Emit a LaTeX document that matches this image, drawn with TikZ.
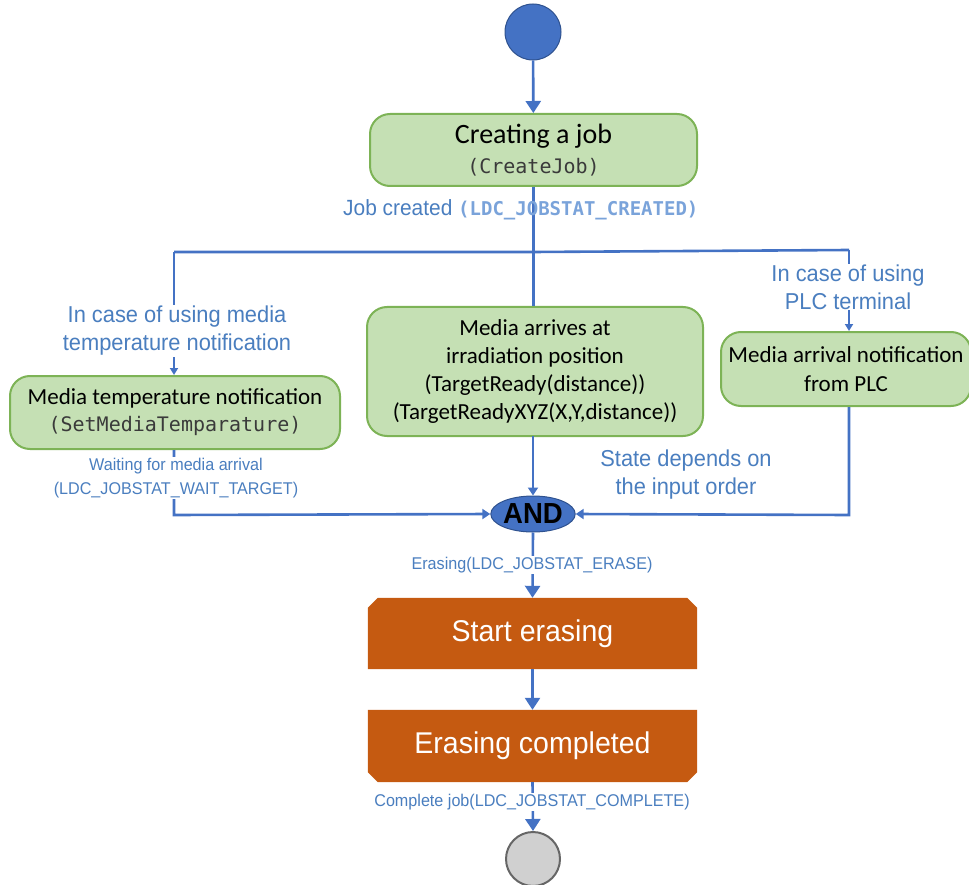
\documentclass[tikz,border=0pt]{standalone}
\usepackage{fontspec}
\setmainfont{Carlito}
\newfontfamily\labfont[FakeStretch=0.95]{Liberation Sans}
\newfontfamily\codefont{DejaVu Sans Mono}
\usetikzlibrary{arrows.meta,shapes.geometric}

\definecolor{flow}{HTML}{4472C4}
\definecolor{flowdark}{HTML}{2F528F}
\definecolor{labblue}{HTML}{4A7EBF}
\definecolor{codeblue}{HTML}{7AA3DA}
\definecolor{boxgreen}{HTML}{C5E0B4}
\definecolor{edgegreen}{HTML}{7DB356}
\definecolor{erase}{HTML}{C55A11}
\definecolor{codegrey}{HTML}{3A3A3A}
\definecolor{endgrey}{HTML}{D0D0D0}

\tikzset{
  flowline/.style={draw=flow, line width=2.6pt},
  bigarrow/.style={flowline, -{Triangle[width=15pt,length=12pt]}},
  midarrow/.style={flowline, -{Triangle[width=10pt,length=8pt]}},
  smallarrow/.style={flowline, -{Triangle[width=8pt,length=7pt]}},
  actbox/.style={rounded corners=20pt, fill=boxgreen, draw=edgegreen,
    line width=2pt, align=center, inner sep=0pt},
  erasebox/.style={inner sep=0pt, align=center, text=white,
    font=\labfont\fontsize{30}{34}\selectfont},
  biglabel/.style={text=labblue, align=center, fill=white, inner sep=1pt,
    font=\labfont\fontsize{23}{28}\selectfont},
  smalllabel/.style={text=labblue, align=center, fill=white, inner sep=1pt,
    font=\labfont\fontsize{17}{24}\selectfont},
}

\begin{document}
\begin{tikzpicture}[x=1pt,y=-1pt]
\useasboundingbox (0,0) rectangle (969,885);

% initial and final states
\node[circle, fill=flow, draw=flowdark, line width=1pt, minimum size=56pt, inner sep=0pt] (start) at (533,32) {};
\node[circle, fill=endgrey, draw=gray!80!black, line width=2pt, minimum size=54pt, inner sep=0pt] (finish) at (533,859) {};

% activity boxes
\node[actbox, minimum width=327pt, minimum height=72pt, font=\fontsize{28}{30}\selectfont] (job) at (533.5,150)
  {Creating a job\\
   {\codefont\fontsize{20}{24}\selectfont\color{codegrey}(CreateJob)}};
\node[actbox, minimum width=330pt, minimum height=73pt, font=\fontsize{23}{27}\selectfont] (temp) at (175,412.5)
  {Media temperature notification\\
   {\codefont\fontsize{20}{25}\selectfont\color{codegrey}(SetMediaTemparature)}};
\node[actbox, minimum width=336pt, minimum height=129pt, font=\fontsize{23}{28}\selectfont] (arrive) at (535,371.5)
  {Media arrives at\\ irradiation position\\
   (TargetReady(distance))\\ (TargetReadyXYZ(X,Y,distance))};
\node[actbox, minimum width=250pt, minimum height=74pt, font=\fontsize{23}{29}\selectfont] (plc) at (846,369)
  {Media arrival notification\\ from PLC};

% join
\node[ellipse, fill=flow, draw=flowdark, line width=1pt, minimum width=70pt, minimum height=36pt, inner sep=0pt,
  font=\labfont\bfseries\fontsize{29}{30}\selectfont] (and) at (533,514) {AND};

% erase steps with chamfered corners
\node[erasebox, minimum width=329pt, minimum height=71pt] (erase) at (532.5,633.5) {Start erasing};
\fill[erase] ([yshift=-10pt]erase.north west) -- ([xshift=10pt]erase.north west)
  -- ([xshift=-10pt]erase.north east) -- ([yshift=-10pt]erase.north east)
  -- (erase.south east) -- (erase.south west) -- cycle;
\node[erasebox, minimum width=329pt, minimum height=71pt] at (erase) {Start erasing};

\node[erasebox, minimum width=329pt, minimum height=72pt] (done) at (532.5,746) {Erasing completed};
\fill[erase] (done.north west) -- (done.north east)
  -- ([yshift=10pt]done.south east) -- ([xshift=-10pt]done.south east)
  -- ([xshift=10pt]done.south west) -- ([yshift=10pt]done.south west) -- cycle;
\node[erasebox, minimum width=329pt, minimum height=72pt] at (done) {Erasing completed};

% branch points
\coordinate (fork) at (533,252);
\coordinate (forkL) at (174,252);
\coordinate (forkR) at (849,250);
\coordinate (joinL) at (174,515);
\coordinate (joinR) at (849,515);

% connectors
\draw[bigarrow] (start) -- (job);
\draw[flowline] (job.south) -- (job.south |- arrive.north);
\draw[flowline] (forkL) -- (fork) -- (forkR);
\draw[smallarrow] (forkL) -- (forkL |- temp.north);
\draw[smallarrow] (forkR) -- (forkR |- plc.north);
\draw[midarrow] (533,436) -- (and.north);
\draw[midarrow] (temp.south -| joinL) -- (joinL) -- (and.west);
\draw[midarrow] (plc.south -| joinR) -- (joinR) -- (and.east);
\draw[bigarrow] (and.south) -- (erase.north);
\draw[bigarrow] (erase.south) -- (done.north);
\draw[bigarrow] (done.south) -- (finish.north);

% transition labels
\node[text=labblue, inner sep=0pt, anchor=base west] at (343,216)
  {\labfont\fontsize{22}{24}\selectfont Job created
   {\codefont\bfseries\fontsize{19}{20}\selectfont\color{codeblue}(LDC\_JOBSTAT\_CREATED)}};
\node[biglabel] at (177,331) {In case of using media\\ temperature notification};
\node[biglabel] at (848,287) {In case of using\\ PLC terminal};
\node[smalllabel] at (176,478) {Waiting for media arrival\\ (LDC\_JOBSTAT\_WAIT\_TARGET)};
\node[biglabel, fill=none] at (686,475) {State depends on\\ the input order};
\node[smalllabel] at (532,565) {Erasing(LDC\_JOBSTAT\_ERASE)};
\node[smalllabel] at (532,802) {Complete job(LDC\_JOBSTAT\_COMPLETE)};
\end{tikzpicture}
\end{document}
